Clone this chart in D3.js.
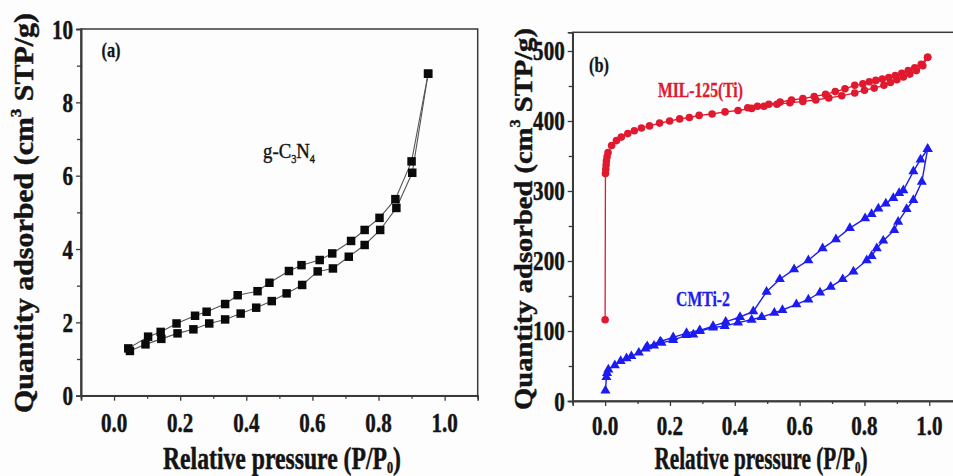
<!DOCTYPE html>
<html>
<head>
<meta charset="utf-8">
<script src="https://cdn.jsdelivr.net/npm/d3@7"></script>
<style>
  html, body { margin: 0; padding: 0; background: #ffffff; }
  svg { display: block; }
  text { font-family: "Liberation Serif", "Times New Roman", serif; }
</style>
</head>
<body>
<div id="chart"></div>
<script>
// ---- g-C3N4 isotherm (panel a) : [P/P0, quantity] ----
const gc3n4Adsorption = [
  [0.048, 1.22], [0.095, 1.40], [0.143, 1.55], [0.192, 1.70], [0.240, 1.81],
  [0.288, 1.97], [0.336, 2.08], [0.383, 2.24], [0.430, 2.40], [0.477, 2.58],
  [0.522, 2.79], [0.569, 3.02], [0.616, 3.39], [0.662, 3.47], [0.710, 3.79],
  [0.758, 4.11], [0.805, 4.52], [0.854, 5.12], [0.902, 6.08], [0.950, 8.78]
];
const gc3n4Desorption = [
  [0.950, 8.78], [0.900, 6.39], [0.851, 5.36], [0.803, 4.85], [0.758, 4.52],
  [0.717, 4.22], [0.660, 3.88], [0.622, 3.70], [0.567, 3.56], [0.529, 3.40],
  [0.470, 3.08], [0.434, 2.85], [0.374, 2.74], [0.336, 2.50], [0.280, 2.29],
  [0.245, 2.18], [0.189, 1.97], [0.141, 1.74], [0.103, 1.61], [0.043, 1.29]
];

// ---- MIL-125(Ti) isotherm (panel b) ----
const mil125Adsorption = [
  [0.000, 116], [0.001, 325], [0.002, 331], [0.003, 337], [0.004, 343],
  [0.006, 349], [0.009, 355], [0.020, 365], [0.035, 372], [0.050, 377],
  [0.070, 382], [0.090, 386], [0.112, 390], [0.137, 393], [0.168, 397],
  [0.199, 400], [0.230, 403], [0.260, 405], [0.290, 408], [0.330, 410],
  [0.370, 413], [0.410, 415], [0.452, 418], [0.490, 421], [0.530, 424],
  [0.570, 426], [0.610, 428], [0.650, 430], [0.690, 433], [0.730, 436],
  [0.770, 440], [0.800, 444], [0.830, 447], [0.860, 451], [0.880, 455],
  [0.900, 459], [0.920, 463], [0.940, 467], [0.960, 472], [0.980, 479],
  [0.995, 491]
];
const mil125Desorption = [
  [0.995, 491], [0.975, 481], [0.955, 476], [0.935, 472], [0.915, 468],
  [0.895, 465], [0.875, 462], [0.855, 460], [0.835, 458], [0.815, 456],
  [0.795, 453], [0.770, 451], [0.740, 446], [0.710, 442], [0.680, 438],
  [0.645, 435], [0.610, 432], [0.575, 430], [0.540, 427], [0.505, 424],
  [0.470, 421], [0.440, 419]
];

// ---- CMTi-2 isotherm (panel b) ----
const cmti2Adsorption = [
  [0.001, 15], [0.004, 34], [0.006, 40], [0.010, 45], [0.030, 51],
  [0.048, 57], [0.066, 61], [0.081, 64], [0.104, 69], [0.125, 75],
  [0.151, 79], [0.174, 83], [0.210, 87], [0.251, 94], [0.272, 95],
  [0.292, 100], [0.333, 105], [0.369, 107], [0.410, 112], [0.452, 116],
  [0.483, 120], [0.522, 126], [0.547, 130], [0.590, 138], [0.627, 145],
  [0.663, 155], [0.696, 163], [0.733, 174], [0.766, 185], [0.807, 201],
  [0.822, 207], [0.838, 218], [0.858, 229], [0.892, 244], [0.904, 256],
  [0.930, 274], [0.951, 287], [0.977, 313], [0.995, 360]
];
const cmti2Desorption = [
  [0.995, 360], [0.973, 345], [0.951, 328], [0.920, 301], [0.907, 297],
  [0.889, 290], [0.866, 282], [0.843, 275], [0.822, 267], [0.802, 261],
  [0.755, 247], [0.712, 231], [0.671, 218], [0.627, 201], [0.583, 188],
  [0.539, 174], [0.498, 156], [0.457, 128], [0.416, 120], [0.372, 113],
  [0.333, 107], [0.292, 101], [0.251, 97], [0.210, 91], [0.170, 85],
  [0.130, 78]
];

// ---- axis ticks ----
const xTicks = [0.0, 0.2, 0.4, 0.6, 0.8, 1.0];
const xMinorTicks = [-0.1, 0.1, 0.3, 0.5, 0.7, 0.9, 1.1];
const yTicksA = [0, 2, 4, 6, 8, 10];
const yMinorTicksA = [1, 3, 5, 7, 9];
const yTicksB = [0, 100, 200, 300, 400, 500];
const yMinorTicksB = [50, 150, 250, 350, 450];

const W = 953, H = 476;
const svg = d3.select("#chart").append("svg")
  .attr("width", W).attr("height", H)
  .attr("viewBox", `0 0 ${W} ${H}`);
svg.append("rect").attr("width", W).attr("height", H).attr("fill", "#fdfdfd");

const AXIS = "#3a3a3a";
const INK = "#141414";
const SX = 0.78;   // horizontal squeeze applied to lettering

// Horizontal text helper: anchor at (x, y) baseline, optionally fitted to a width
function hText(parent, x, y, opts) {
  const g = parent.append("g");
  const col = opts.color || INK;
  const t = g.append("text")
    .attr("text-anchor", opts.anchor || "middle")
    .attr("font-size", opts.size)
    .attr("font-weight", opts.weight || "bold")
    .attr("fill", col)
    .attr("stroke", opts.heavy ? col : "none")
    .attr("stroke-width", opts.heavy || 0);
  opts.build(t);
  let k = SX;
  if (opts.width) k = opts.width / t.node().getComputedTextLength();
  g.attr("transform", `translate(${x},${y}) scale(${k},1)`);
  return g;
}

function buildPanel(cfg) {
  const x = d3.scaleLinear().domain([-0.1, 1.1]).range([cfg.left, cfg.right]);
  const y = d3.scaleLinear().domain(cfg.yDomain).range([cfg.bottom, cfg.top]);
  const g = svg.append("g");

  // frame
  g.append("rect")
    .attr("x", cfg.left).attr("y", cfg.top)
    .attr("width", cfg.right - cfg.left).attr("height", cfg.bottom - cfg.top)
    .attr("fill", "none").attr("stroke", AXIS).attr("stroke-width", 1.5);

  // x axis with major + minor ticks
  const xAxis = d3.axisBottom(x).tickValues(xTicks).tickSize(5).tickFormat("");
  const xMinor = d3.axisBottom(x).tickValues(xMinorTicks).tickSize(3).tickFormat("");
  [xAxis, xMinor].forEach(ax => {
    const a = g.append("g").attr("transform", `translate(0,${cfg.bottom})`).call(ax);
    a.select(".domain").attr("stroke", AXIS).attr("stroke-width", 1.6);
    a.selectAll(".tick line").attr("stroke", AXIS).attr("stroke-width", 1.3);
  });
  xTicks.forEach(v => {
    hText(g, x(v), cfg.xLabelBase, {
      size: 27, heavy: 0.5, build: t => t.text(v.toFixed(1))
    });
  });

  // y axis with major + minor ticks
  const yAxis = d3.axisLeft(y).tickValues(cfg.yTicks).tickSize(5).tickFormat("");
  const yMinor = d3.axisLeft(y).tickValues(cfg.yMinor).tickSize(4).tickFormat("");
  [yAxis, yMinor].forEach(ax => {
    const a = g.append("g").attr("transform", `translate(${cfg.left},0)`).call(ax);
    a.select(".domain").attr("stroke", AXIS).attr("stroke-width", 1.6);
    a.selectAll(".tick line").attr("stroke", AXIS).attr("stroke-width", 1.3);
  });
  cfg.yTicks.forEach(v => {
    hText(g, cfg.left - 8, y(v) + 9.5, {
      size: 27, heavy: 0.5, anchor: "end", build: t => t.text(v)
    });
  });

  // x axis title
  hText(g, cfg.xTitle[0], cfg.xTitle[1], {
    size: 31, heavy: 0.5, width: cfg.xTitle[2],
    build: t => {
      t.append("tspan").text("Relative pressure (P/P");
      t.append("tspan").attr("font-size", 16).attr("dy", 4).text("0");
      t.append("tspan").attr("dy", -4).text(")");
    }
  });

  // y axis title (rotated), length fitted along the axis
  const yt = g.append("g");
  const ytt = yt.append("text")
    .attr("text-anchor", "middle").attr("font-size", 30)
    .attr("font-weight", "bold").attr("fill", INK)
    .attr("stroke", INK).attr("stroke-width", 0.5);
  ytt.append("tspan").text("Quantity adsorbed (cm");
  const sup = ytt.append("tspan").attr("font-size", 17).attr("dy", -13).text("3");
  ytt.append("tspan").attr("dy", 13).text(" STP/g)");
  const fk = cfg.yTitle[2] / ytt.node().getComputedTextLength();
  ytt.attr("font-size", 30 * fk);
  sup.attr("font-size", 17 * fk);
  yt.attr("transform", `translate(${cfg.yTitle[0]},${cfg.yTitle[1]}) scale(0.9,1) rotate(-90)`);

  return { g, x, y };
}

// ---------- panel (a) ----------
const pa = buildPanel({
  left: 81, right: 477.7, top: 29, bottom: 395.7,
  yDomain: [0, 10], yTicks: yTicksA, yMinor: yMinorTicksA,
  xLabelBase: 432,
  xTitle: [282, 469, 238],
  yTitle: [33, 213, 400]
});
const lineA = d3.line().x(d => pa.x(d[0])).y(d => pa.y(d[1]));
[gc3n4Adsorption, gc3n4Desorption].forEach(series => {
  pa.g.append("path").datum(series).attr("d", lineA)
    .attr("fill", "none").attr("stroke", "#555").attr("stroke-width", 1.1);
});
const sq = d3.symbol().type(d3.symbolSquare).size(72);
[gc3n4Adsorption, gc3n4Desorption].forEach(series => {
  pa.g.selectAll(null).data(series).join("path")
    .attr("d", sq)
    .attr("transform", d => `translate(${pa.x(d[0])},${pa.y(d[1])})`)
    .attr("fill", "#0a0a0a");
});
hText(pa.g, 111, 57, { size: 21, heavy: 0.3, build: t => t.text("(a)") });
hText(pa.g, 263, 158, {
  size: 22, anchor: "start", weight: "normal", heavy: 0.4, width: 52, build: t => {
    t.append("tspan").text("g-C");
    t.append("tspan").attr("font-size", 12).attr("dy", 5).text("3");
    t.append("tspan").attr("dy", -5).text("N");
    t.append("tspan").attr("font-size", 12).attr("dy", 5).text("4");
  }
});

// ---------- panel (b) ----------
const pb = buildPanel({
  left: 572.7, right: 961.7, top: 32.3, bottom: 401,
  yDomain: [0, 526.7], yTicks: yTicksB, yMinor: yMinorTicksB,
  xLabelBase: 435,
  xTitle: [761, 469, 213],
  yTitle: [532, 219, 382]
});
const lineB = d3.line().x(d => pb.x(d[0])).y(d => pb.y(d[1]));
const RED = "#e0192f", BLUE = "#1c1cf0";
[mil125Adsorption, mil125Desorption].forEach(series => {
  pb.g.append("path").datum(series).attr("d", lineB)
    .attr("fill", "none").attr("stroke", RED).attr("stroke-width", 1.3);
});
[cmti2Adsorption, cmti2Desorption].forEach(series => {
  pb.g.append("path").datum(series).attr("d", lineB)
    .attr("fill", "none").attr("stroke", BLUE).attr("stroke-width", 1.4);
});
[mil125Adsorption, mil125Desorption].forEach(series => {
  pb.g.selectAll(null).data(series).join("circle")
    .attr("cx", d => pb.x(d[0])).attr("cy", d => pb.y(d[1]))
    .attr("r", 3.8).attr("fill", RED);
});
const tri = d3.symbol().type(d3.symbolTriangle).size(44);
[cmti2Adsorption, cmti2Desorption].forEach(series => {
  pb.g.selectAll(null).data(series).join("path")
    .attr("d", tri)
    .attr("transform", d => `translate(${pb.x(d[0])},${pb.y(d[1])})`)
    .attr("fill", BLUE);
});
hText(pb.g, 599, 72, { size: 21, heavy: 0.3, build: t => t.text("(b)") });
hText(pb.g, 658, 97, { size: 22, anchor: "start", color: RED, heavy: 0.3, width: 85,
  build: t => t.text("MIL-125(Ti)") });
hText(pb.g, 676, 306, { size: 22, anchor: "start", color: BLUE, heavy: 0.3, width: 54,
  build: t => t.text("CMTi-2") });
</script>
</body>
</html>
